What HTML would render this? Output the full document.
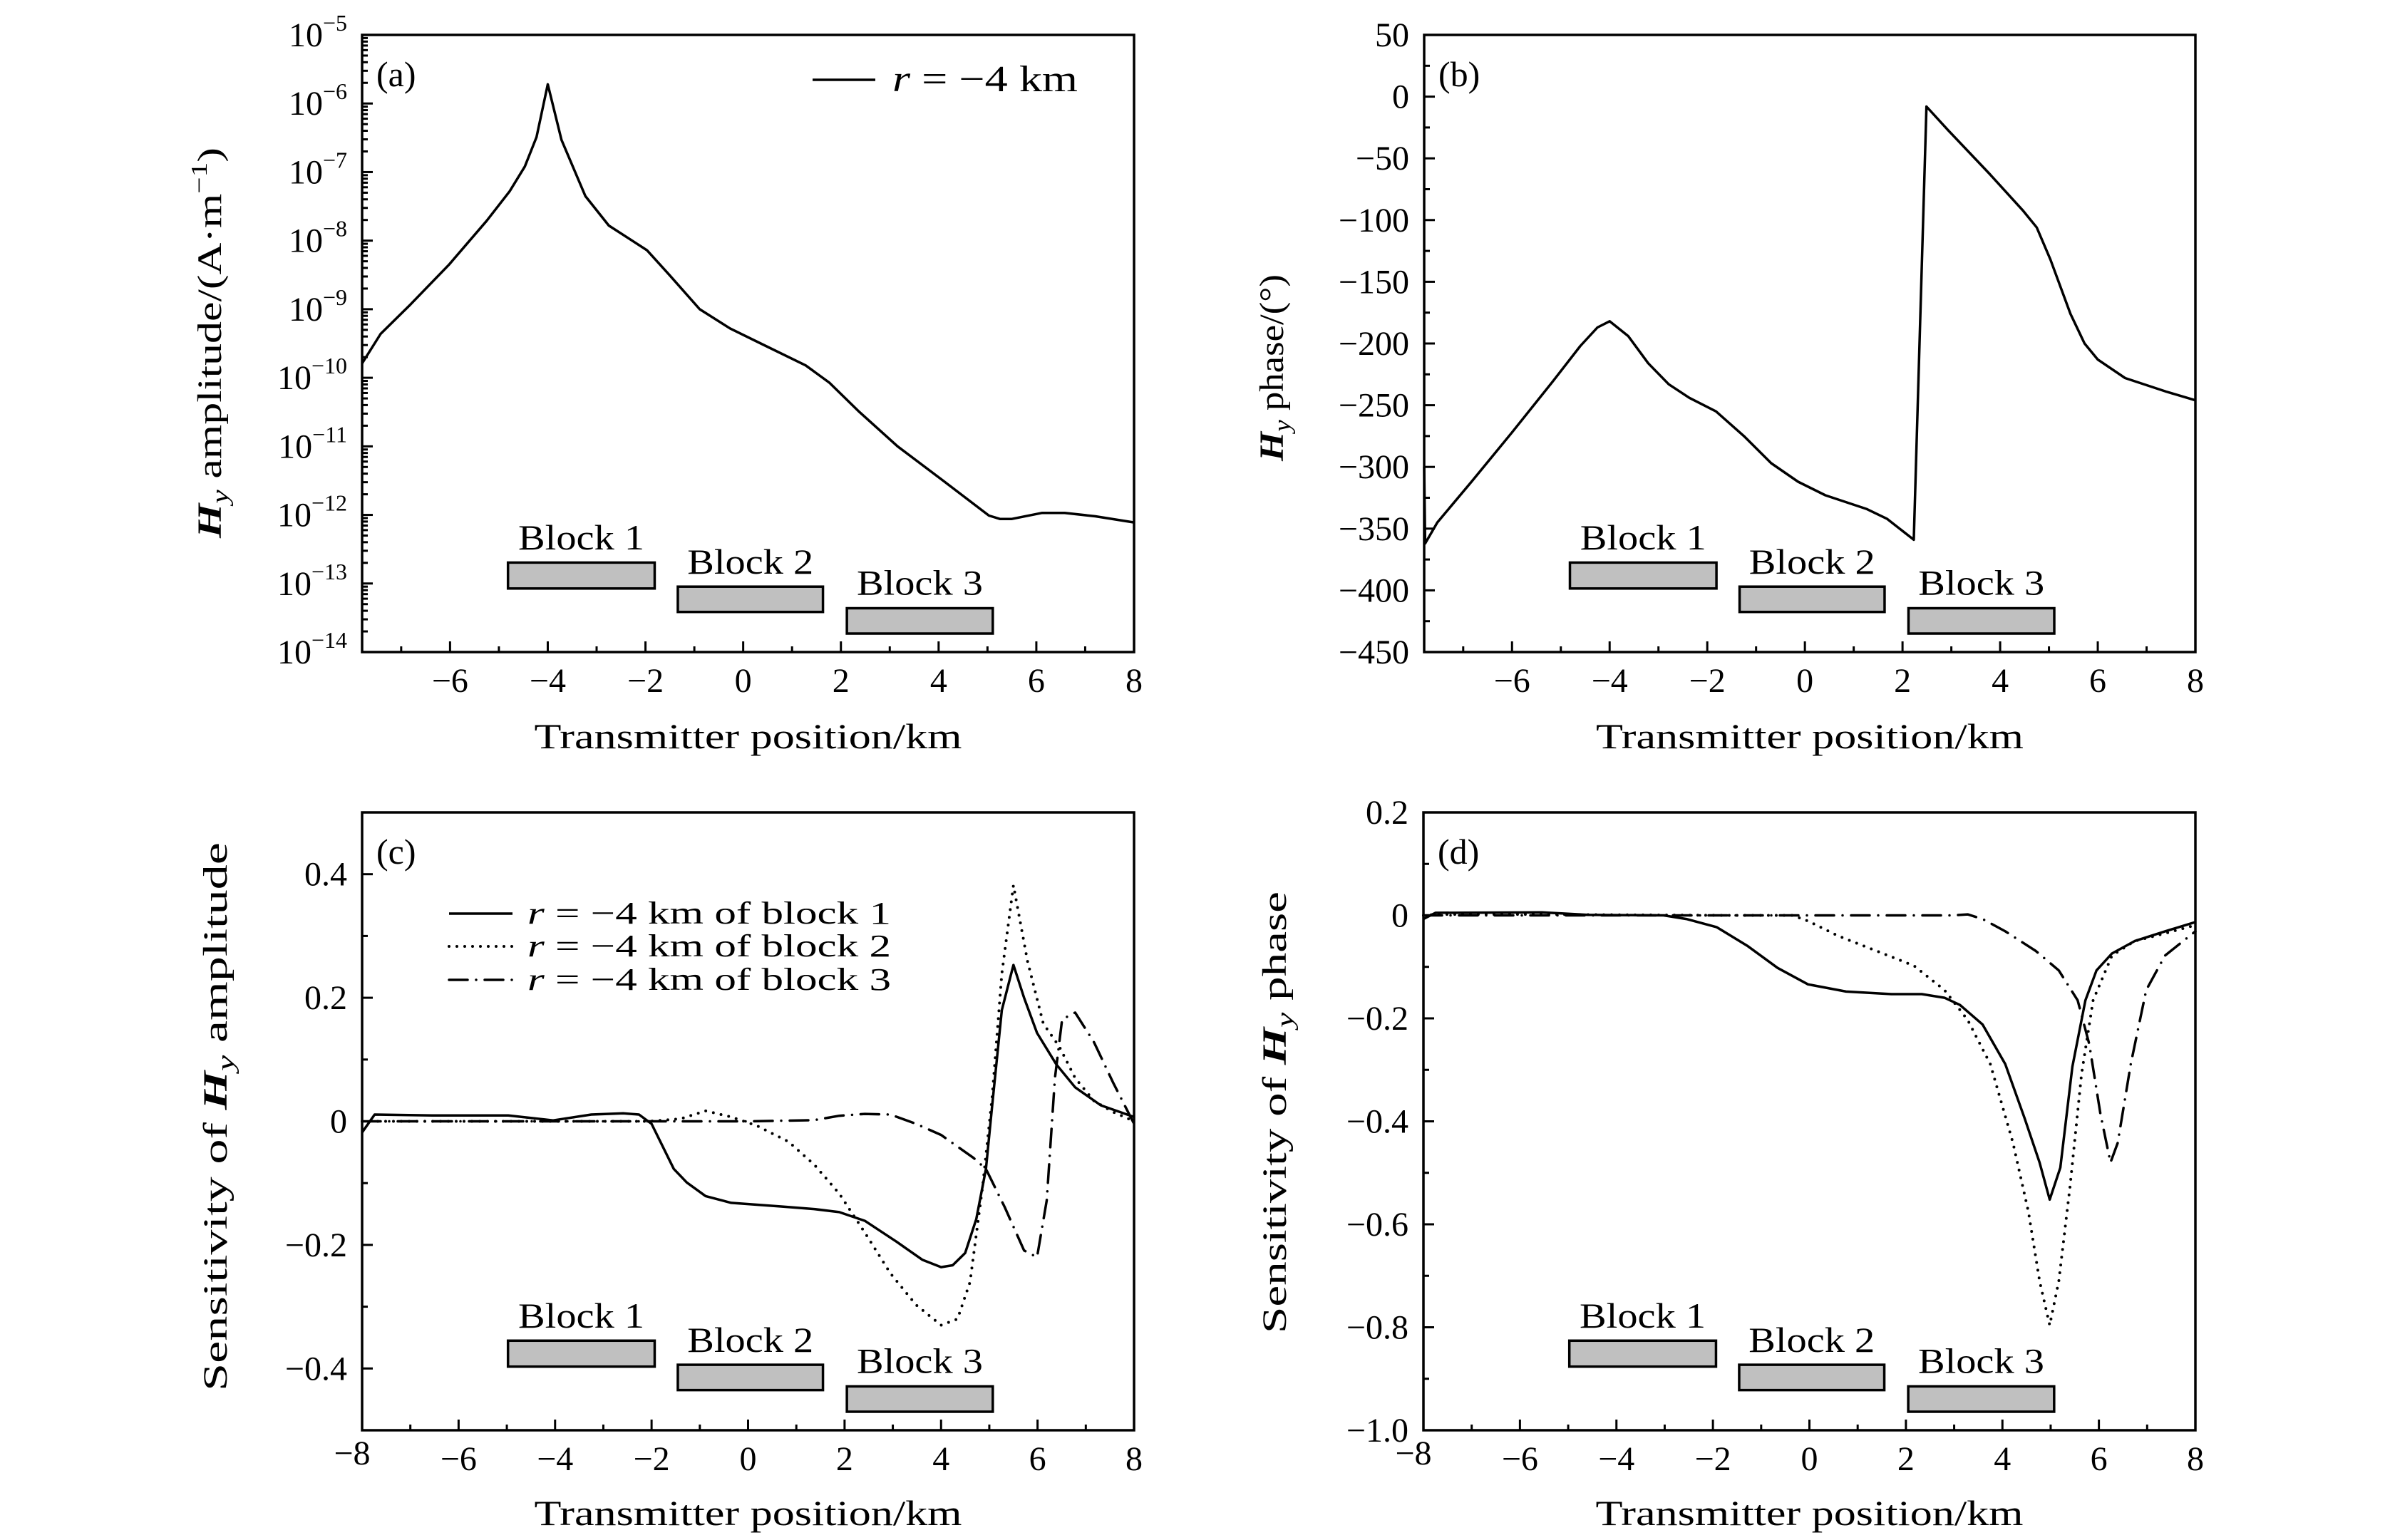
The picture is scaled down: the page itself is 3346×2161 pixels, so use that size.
<!DOCTYPE html>
<html><head><meta charset="utf-8">
<style>
html,body{margin:0;padding:0;background:#fff;}
svg{display:block;}
text{font-family:"Liberation Serif","DejaVu Serif",serif;fill:#000;}
</style></head>
<body>
<svg id="fig" width="3346" height="2161" viewBox="0 0 3346 2161" xmlns="http://www.w3.org/2000/svg"></svg>
<script>
// ---------- Panel (a): Hy amplitude (log10 values) ----------
const ampX = [-7.8,-7.42,-6.81,-6.02,-5.25,-4.78,-4.47,-4.23,-4.0,-3.72,-3.23,-2.75,-1.97,-1.51,-0.89,-0.27,0.36,1.28,1.76,2.38,3.16,4.09,5.03,5.26,5.49,6.12,6.58,7.21,8];
const ampLog = [-9.79,-9.36,-8.93,-8.35,-7.71,-7.28,-6.92,-6.49,-5.72,-6.53,-7.35,-7.78,-8.14,-8.5,-9.0,-9.28,-9.5,-9.82,-10.07,-10.5,-11.0,-11.5,-12.01,-12.06,-12.06,-11.97,-11.97,-12.02,-12.11];
const ampTickExp = [-14,-13,-12,-11,-10,-9,-8,-7,-6,-5];

// ---------- Panel (b): Hy phase ----------
const phaseX = [-7.8,-7.78,-7.53,-6.83,-6.0,-5.17,-4.6,-4.25,-4.0,-3.62,-3.21,-2.79,-2.37,-1.82,-1.25,-0.69,-0.14,0.42,1.26,1.68,2.23,2.49,2.93,3.77,4.46,4.75,5.03,5.44,5.73,6.0,6.56,7.4,8];
const phaseY = [-300,-362,-345,-312,-272,-231,-202,-187,-182,-194,-216,-233,-244,-255,-275,-297,-312,-323,-334,-342,-359,-8,-27,-62,-92,-106,-132,-176,-200,-213,-228,-239,-246];
const phaseTicks = [-450,-400,-350,-300,-250,-200,-150,-100,-50,0,50];

// ---------- Panel (c): amplitude sensitivity ----------
const sensAX1 = [-8,-7.74,-6.55,-4.97,-4.04,-3.25,-2.59,-2.26,-2.0,-1.54,-1.27,-0.88,-0.35,0.71,1.37,1.89,2.42,3.08,3.61,4.0,4.24,4.5,4.73,4.93,5.06,5.26,5.5,5.72,5.99,6.39,6.78,7.31,8];
const sensAY1 = [-0.018,0.011,0.0095,0.0095,0.0015,0.011,0.013,0.011,-0.004,-0.077,-0.099,-0.121,-0.132,-0.138,-0.142,-0.147,-0.161,-0.195,-0.224,-0.236,-0.233,-0.213,-0.158,-0.077,0.026,0.18,0.253,0.2,0.143,0.092,0.055,0.026,0.007];
const sensAX2 = [-8,-2.06,-1.4,-0.88,-0.35,0.18,0.84,1.37,1.89,2.42,2.95,3.48,4.0,4.34,4.6,4.86,5.06,5.26,5.5,5.79,6.12,6.45,6.78,7.17,7.57,8];
const sensAY2 = [0,0,0.004,0.017,0.007,-0.007,-0.033,-0.07,-0.117,-0.18,-0.246,-0.297,-0.33,-0.32,-0.26,-0.106,0.04,0.239,0.382,0.26,0.158,0.121,0.07,0.033,0.015,0];
const sensAX3 = [-8,-3.9,0.05,1.37,1.89,2.42,2.95,3.48,4.0,4.67,4.93,5.32,5.72,5.99,6.19,6.36,6.51,6.78,7.17,7.57,8];
const sensAY3 = [0,0,0,0.002,0.009,0.012,0.011,-0.004,-0.022,-0.059,-0.077,-0.139,-0.209,-0.22,-0.128,0.07,0.165,0.176,0.128,0.062,-0.004];
const sensATicks = [-0.4,-0.2,0,0.2,0.4];
const sensATickLabels = ["\u22120.4","\u22120.2","0","0.2","0.4"];

// ---------- Panel (d): phase sensitivity ----------
const sensPX1 = [-8,-7.75,-5.54,-4.6,-3.02,-2.55,-1.92,-1.29,-0.66,-0.03,0.76,1.7,2.33,2.8,3.12,3.59,4.06,4.46,4.77,4.98,5.2,5.45,5.72,5.95,6.27,6.74,7.37,8];
const sensPY1 = [-0.007,0.005,0.006,0.001,0,-0.007,-0.023,-0.059,-0.102,-0.134,-0.148,-0.153,-0.153,-0.16,-0.174,-0.212,-0.289,-0.394,-0.48,-0.552,-0.49,-0.294,-0.165,-0.107,-0.074,-0.05,-0.031,-0.013];
const sensPX2 = [-8,-7.75,-5.54,-1.76,-0.35,-0.03,0.6,1.39,2.17,2.8,3.28,3.75,4.22,4.54,4.77,4.98,5.17,5.4,5.64,5.88,6.27,6.74,7.37,8];
const sensPY2 = [0,0.002,0.002,0,0,-0.011,-0.04,-0.069,-0.098,-0.145,-0.203,-0.289,-0.442,-0.576,-0.71,-0.796,-0.71,-0.528,-0.308,-0.165,-0.078,-0.05,-0.035,-0.019];
const sensPX3 = [-8,2.96,3.28,3.59,4.06,4.69,5.17,5.56,5.8,6.03,6.24,6.39,6.66,6.98,7.37,8];
const sensPY3 = [0,0,0.002,-0.007,-0.031,-0.069,-0.107,-0.165,-0.25,-0.385,-0.48,-0.442,-0.289,-0.145,-0.078,-0.031];
const sensPTicks = [-1.0,-0.8,-0.6,-0.4,-0.2,0,0.2];
const sensPTickLabels = ["\u22121.0","\u22120.8","\u22120.6","\u22120.4","\u22120.2","0","0.2"];

const xTicksAB = [-6,-4,-2,0,2,4,6,8];
const xTicksCD = [-8,-6,-4,-2,0,2,4,6,8];

const NS = "http://www.w3.org/2000/svg";
const svg = document.getElementById('fig');
function mk(tag, attrs, parent){
  const e = document.createElementNS(NS, tag);
  for (const k in attrs) e.setAttribute(k, attrs[k]);
  (parent||svg).appendChild(e);
  return e;
}
function fmtX(v){ return v<0 ? "\u2212"+(-v) : ""+v; }

function panel(cfg){
  const g = mk('g', {});
  
  
  const {L,R,T,B,x0,x1,y0,y1} = cfg;
  const sx = v => L + (v-x0)/(x1-x0)*(R-L);
  const sy = v => B - (v-y0)/(y1-y0)*(B-T);
  const tg = mk('g', {stroke:'#000','stroke-width':3}, g);
  
  
  for (let v=Math.ceil(x0); v<=x1; v++){
    const major = (v%2===0);
    mk('line',{x1:sx(v),x2:sx(v),y1:B,y2:B-(major?15:8)},tg);
  }
  cfg.yMinor.forEach(v=>{ mk('line',{x1:L,x2:L+8,y1:sy(v),y2:sy(v)},tg); });
  cfg.yMajor.forEach(v=>{ mk('line',{x1:L,x2:L+15,y1:sy(v),y2:sy(v)},tg); });
  cfg.xTicks.forEach(v=>{
    const isEdge = (v===-8);
    const t = mk('text',{x:isEdge? sx(v)-14 : sx(v), y:isEdge? B+48 : B+56,'text-anchor':'middle','font-size':48},g);
    
    
    t.textContent = fmtX(v);
  });
  cfg.yLabels(g, sy);
  const blocks = [[0.189,0.379,0.855,0.897,"Block 1",0.834],[0.409,0.597,0.894,0.935,"Block 2",0.873],[0.628,0.817,0.929,0.970,"Block 3",0.907]];
  blocks.forEach((b,i)=>{
    const r = mk('rect',{x:L+b[0]*(R-L),y:T+b[2]*(B-T),width:(b[1]-b[0])*(R-L),height:(b[3]-b[2])*(B-T),fill:'#c0c0c0',stroke:'#000','stroke-width':3.5},g);
    
    
    const t = mk('text',{x:L+(b[0]+b[1])/2*(R-L),y:T+b[5]*(B-T),'text-anchor':'middle','font-size':50,textLength:177,lengthAdjust:'spacingAndGlyphs'},g);
    
    
    t.textContent = b[4];
  });
  cfg.series.forEach(s=>{
    let d = '';
    s.x.forEach((xv,i)=>{ d += (i?'L':'M') + sx(xv).toFixed(1) + ',' + sy(s.y[i]).toFixed(1); });
    const p = mk('path',{d:d,fill:'none',stroke:'#000','stroke-width':s.w||3.5,'stroke-linejoin':'round','stroke-linecap':s.cap||'butt'},g);
    if (s.dash) p.setAttribute('stroke-dasharray', s.dash);
    
    
  });
  const f = mk('rect',{x:L,y:T,width:R-L,height:B-T,fill:'none',stroke:'#000','stroke-width':3.5},g);
  
  
  const pl = mk('text',{x:L+20,y:T+72,'font-size':50},g);
  
  
  pl.textContent = cfg.label;
  const xt = mk('text',{x:(L+R)/2,y:cfg.xTitleY,'text-anchor':'middle','font-size':50,textLength:600,lengthAdjust:'spacingAndGlyphs'},g);
  
  
  xt.textContent = 'Transmitter position/km';
  const yt = mk('text',{x:0,y:0,'text-anchor':'middle','font-size':48,transform:`translate(${cfg.yt[0]},${cfg.yt[1]}) rotate(-90)`,textLength:cfg.yt[2],lengthAdjust:'spacingAndGlyphs'},g);
  
  
  cfg.yTitle(yt);
  return {sx,sy,g};
}

function addTs(parent, txt, attrs){
  const t = mk('tspan', attrs||{}, parent);
  t.textContent = txt;
  return t;
}
function hyTitle(yt, rest){
  addTs(yt,'H',{'font-style':'italic','font-weight':'bold'});
  addTs(yt,'y',{'font-style':'italic','font-size':34,dy:10});
  addTs(yt,rest,{dy:-10});
}

const logMinor = [];
for (let e=-14;e<-5;e++){ for (let k=2;k<=9;k++) logMinor.push(e+Math.log10(k)); }
const phMinor = []; for (let v=-425; v<50; v+=50) phMinor.push(v);
const cMinor = [-0.5,-0.3,-0.1,0.1,0.3,0.5];
const dMinor = [-0.9,-0.7,-0.5,-0.3,-0.1,0.1];

panel({name:'panel-a-amplitude',label:'(a)',L:508,R:1591,T:49,B:915,x0:-7.8,x1:8,y0:-14,y1:-5,
  yMajor:ampTickExp,yMinor:logMinor,xTicks:xTicksAB,xTitleY:1050,
  yt:[310,481,548],
  yTitle:yt=>{ hyTitle(yt,' amplitude/(A\u00b7m'); addTs(yt,'\u22121',{'font-size':32,dy:-20}); addTs(yt,')',{dy:20}); },
  yLabels:(g,sy)=>ampTickExp.forEach(e=>{
    const t = mk('text',{x:487,y:sy(e)+16,'text-anchor':'end','font-size':48},g);
    
    
    addTs(t,'10');
    addTs(t,'\u2212'+(-e),{'font-size':32,dy:-22});
  }),
  series:[{name:'amplitude-line',x:ampX,y:ampLog}]
});
(function(){
  const lg = mk('g',{});
  
  
  mk('line',{x1:1140,x2:1228,y1:112,y2:112,stroke:'#000','stroke-width':3.5},lg);
  const t = mk('text',{x:1252,y:128,'font-size':52,textLength:260,lengthAdjust:'spacingAndGlyphs'},lg);
  addTs(t,'r',{'font-style':'italic'}); addTs(t,' = \u22124 km');
})();

panel({name:'panel-b-phase',label:'(b)',L:1998,R:3080,T:49,B:915,x0:-7.8,x1:8,y0:-450,y1:50,
  yMajor:phaseTicks,yMinor:phMinor,xTicks:xTicksAB,xTitleY:1050,
  yt:[1800,516,262],
  yTitle:yt=>{ hyTitle(yt,' phase/(\u00b0)'); },
  yLabels:(g,sy)=>phaseTicks.forEach(v=>{
    const t = mk('text',{x:1977,y:sy(v)+16,'text-anchor':'end','font-size':48},g);
    
    
    t.textContent = fmtX(v);
  }),
  series:[{name:'phase-line',x:phaseX,y:phaseY}]
});

panel({name:'panel-c-amplitude-sensitivity',label:'(c)',L:508,R:1591,T:1140,B:2007,x0:-8,x1:8,y0:-0.5,y1:0.5,
  yMajor:sensATicks,yMinor:cMinor,xTicks:xTicksCD,xTitleY:2140,
  yt:[318,1567,770],
  yTitle:yt=>{ addTs(yt,'Sensitivity of '); addTs(yt,'H',{'font-style':'italic','font-weight':'bold'}); addTs(yt,'y',{'font-style':'italic','font-size':34,dy:10}); addTs(yt,' amplitude',{dy:-10}); },
  yLabels:(g,sy)=>sensATicks.forEach((v,i)=>{
    const t = mk('text',{x:487,y:sy(v)+16,'text-anchor':'end','font-size':48},g);
    
    
    t.textContent = sensATickLabels[i];
  }),
  series:[
    {name:'block-1-amplitude-line',x:sensAX1,y:sensAY1},
    {name:'block-2-amplitude-line',x:sensAX2,y:sensAY2,dash:'0 11',cap:'round',w:4},
    {name:'block-3-amplitude-line',x:sensAX3,y:sensAY3,dash:'26 12 0 12',cap:'round'}
  ]
});
(function(){
  const lg = mk('g',{});
  
  
  const rows = [[1282,null,'1'],[1328,'0 11','2'],[1375,'26 12 0 12','3']];
  rows.forEach(r=>{
    const l = mk('line',{x1:630,x2:719,y1:r[0],y2:r[0],stroke:'#000','stroke-width':r[1]&&r[1][0]==='0'?4:3.5,'stroke-linecap':r[1]?'round':'butt'},lg);
    if (r[1]) l.setAttribute('stroke-dasharray', r[1]);
    const t = mk('text',{x:740,y:r[0]+14,'font-size':44,textLength:510,lengthAdjust:'spacingAndGlyphs'},lg);
    addTs(t,'r',{'font-style':'italic'}); addTs(t,' = \u22124 km of block '+r[2]);
  });
})();

panel({name:'panel-d-phase-sensitivity',label:'(d)',L:1997,R:3080,T:1140,B:2007,x0:-8,x1:8,y0:-1.0,y1:0.2,
  yMajor:sensPTicks,yMinor:dMinor,xTicks:xTicksCD,xTitleY:2140,
  yt:[1804,1561,620],
  yTitle:yt=>{ addTs(yt,'Sensitivity of '); addTs(yt,'H',{'font-style':'italic','font-weight':'bold'}); addTs(yt,'y',{'font-style':'italic','font-size':34,dy:10}); addTs(yt,' phase',{dy:-10}); },
  yLabels:(g,sy)=>sensPTicks.forEach((v,i)=>{
    const t = mk('text',{x:1976,y:sy(v)+16,'text-anchor':'end','font-size':48},g);
    
    
    t.textContent = sensPTickLabels[i];
  }),
  series:[
    {name:'block-1-phase-line',x:sensPX1,y:sensPY1},
    {name:'block-2-phase-line',x:sensPX2,y:sensPY2,dash:'0 11',cap:'round',w:4},
    {name:'block-3-phase-line',x:sensPX3,y:sensPY3,dash:'26 12 0 12',cap:'round'}
  ]
});
</script>
</body></html>
